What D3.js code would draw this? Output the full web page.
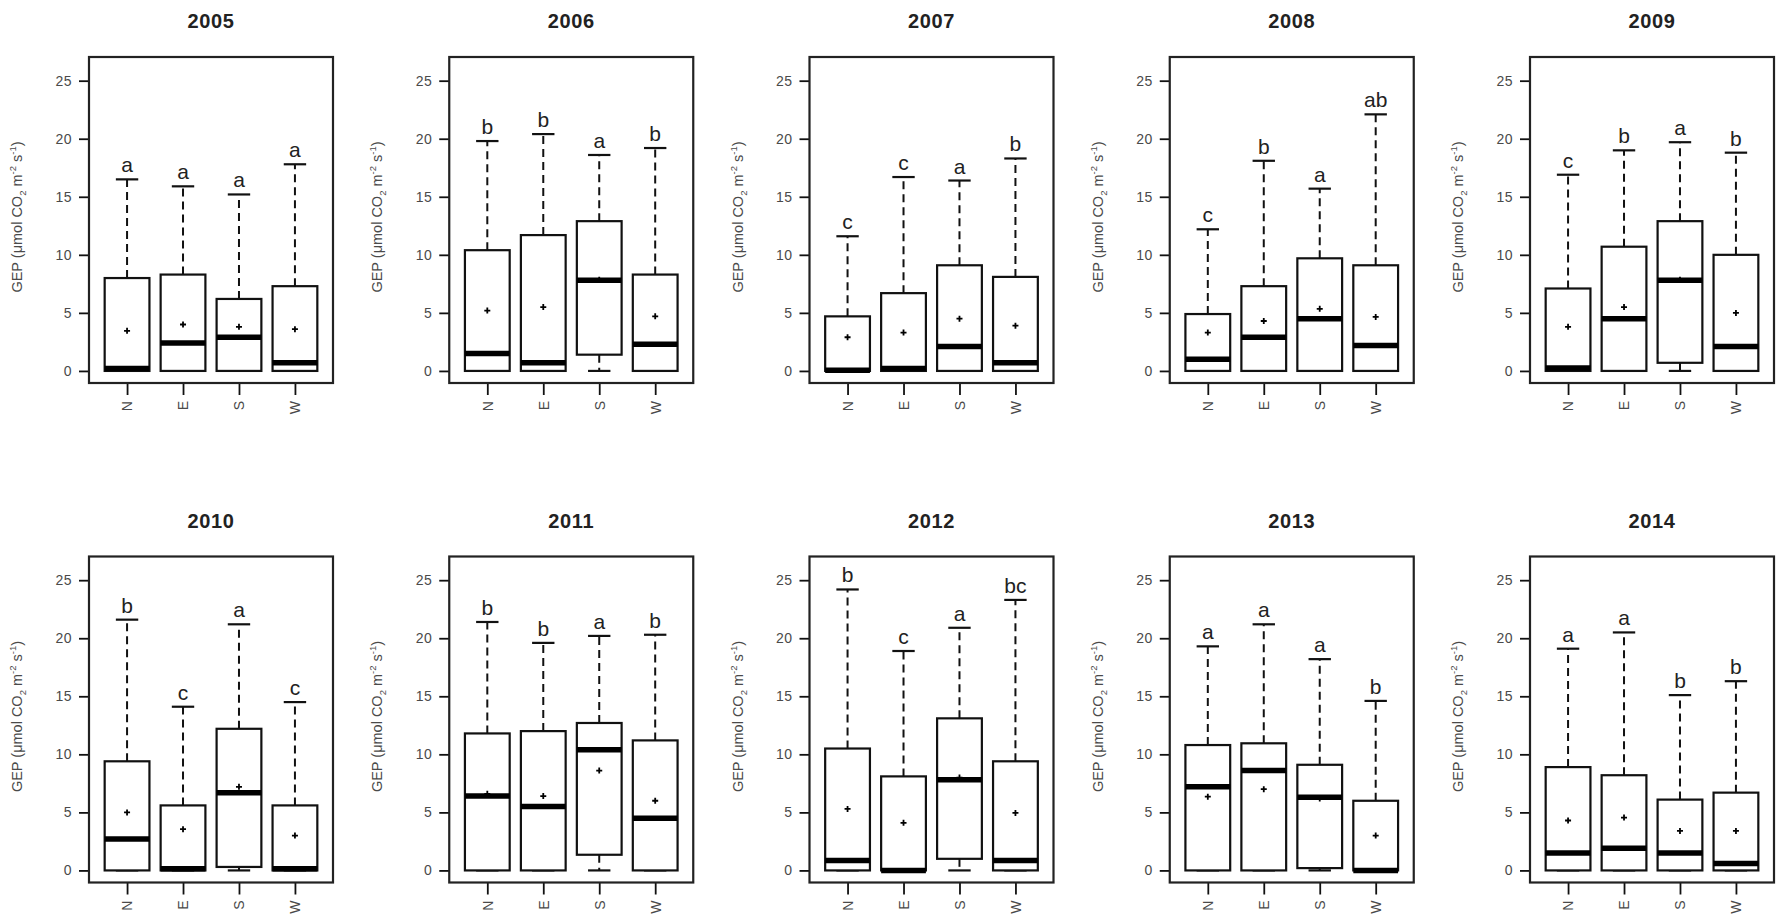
<!DOCTYPE html>
<html>
<head>
<meta charset="utf-8">
<script src="https://cdn.jsdelivr.net/npm/d3@7"></script>
<style>
  body { margin: 0; background: #fff; }
  svg { display: block; font-family: "Liberation Sans", Arial, sans-serif; }
</style>
</head>
<body>
<div id="container"></div>
<script>
// years (one panel each) and the four slope aspects
const years = [2005, 2006, 2007, 2008, 2009, 2010, 2011, 2012, 2013, 2014];
const dirs = ['N', 'E', 'S', 'W'];
const yTicks = [0, 5, 10, 15, 20, 25];

// box statistics per year, in N E S W order
const upper = [
    [16.5, 15.9, 15.2, 17.8],
    [19.8, 20.4, 18.6, 19.2],
    [11.6, 16.7, 16.4, 18.3],
    [12.2, 18.1, 15.7, 22.1],
    [16.9, 19.0, 19.7, 18.8],
    [21.6, 14.1, 21.2, 14.5],
    [21.4, 19.6, 20.2, 20.3],
    [24.2, 18.9, 20.9, 23.3],
    [19.3, 21.2, 18.2, 14.6],
    [19.1, 20.5, 15.1, 16.3]
];
const q3 = [
    [8.0, 8.3, 6.2, 7.3],
    [10.4, 11.7, 12.9, 8.3],
    [4.7, 6.7, 9.1, 8.1],
    [4.9, 7.3, 9.7, 9.1],
    [7.1, 10.7, 12.9, 10.0],
    [9.4, 5.6, 12.2, 5.6],
    [11.8, 12.0, 12.7, 11.2],
    [10.5, 8.1, 13.1, 9.4],
    [10.8, 10.95, 9.1, 6.0],
    [8.9, 8.2, 6.1, 6.7]
];
const median = [
    [0.2, 2.4, 2.9, 0.7],
    [1.5, 0.7, 7.8, 2.3],
    [0.05, 0.2, 2.1, 0.7],
    [1.0, 2.9, 4.5, 2.2],
    [0.25, 4.5, 7.8, 2.1],
    [2.7, 0.15, 6.7, 0.15],
    [6.4, 5.5, 10.4, 4.5],
    [0.85, 0.0, 7.8, 0.85],
    [7.2, 8.6, 6.3, 0.0],
    [1.5, 1.9, 1.5, 0.6]
];
const q1 = [
    [0, 0, 0, 0],
    [0, 0, 1.4, 0],
    [0, 0, 0, 0],
    [0, 0, 0, 0],
    [0, 0, 0.7, 0],
    [0, 0, 0.3, 0],
    [0, 0, 1.35, 0],
    [0, 0, 1.0, 0],
    [0, 0, 0.2, 0],
    [0, 0, 0, 0]
];
const lower = [
    [0, 0, 0, 0],
    [0, 0, 0, 0],
    [0, 0, 0, 0],
    [0, 0, 0, 0],
    [0, 0, 0, 0],
    [0, 0, 0, 0],
    [0, 0, 0, 0],
    [0, 0, 0, 0],
    [0, 0, 0, 0],
    [0, 0, 0, 0]
];
const means = [
    [3.45, 4.0, 3.8, 3.6],
    [5.2, 5.5, 7.85, 4.7],
    [2.9, 3.3, 4.5, 3.9],
    [3.3, 4.3, 5.35, 4.65],
    [3.8, 5.5, 7.85, 5.0],
    [5.0, 3.55, 7.2, 3.0],
    [6.6, 6.4, 8.6, 6.0],
    [5.3, 4.1, 8.0, 4.95],
    [6.35, 7.0, 6.2, 3.0],
    [4.3, 4.55, 3.4, 3.4]
];
const letters = [
    ['a', 'a', 'a', 'a'],
    ['b', 'b', 'a', 'b'],
    ['c', 'c', 'a', 'b'],
    ['c', 'b', 'a', 'ab'],
    ['c', 'b', 'a', 'b'],
    ['b', 'c', 'a', 'c'],
    ['b', 'b', 'a', 'b'],
    ['b', 'c', 'a', 'bc'],
    ['a', 'a', 'a', 'b'],
    ['a', 'a', 'b', 'b']
];

// layout
const w = 1776;
const h = 921;
const panelW = 244;
const panelH = 326;
const left0 = 89;
const top0 = 57;
const colStep = 360.25;
const rowStep = 499.5;
const ink = '#111';
const grey = '#4a4a4a';

const svg = d3.select('#container')
    .append('svg')
    .attr('width', w)
    .attr('height', h);

svg.append('rect').attr('width', w).attr('height', h).attr('fill', '#fff');

years.forEach((year, i) => {
    const col = i % 5;
    const row = Math.floor(i / 5);
    const x0 = left0 + col * colStep;
    const y0 = top0 + row * rowStep;

    const g = svg.append('g').attr('transform', `translate(${x0}, ${y0})`);

    const x = d3.scalePoint().domain(dirs).range([0, panelW]).padding(0.68);
    const y = d3.scaleLinear().domain([-1.04, 27.04]).range([panelH, 0]);
    const bw = x.step() * 0.8;
    const cap = bw / 2;

    // title
    g.append('text')
        .attr('x', panelW / 2)
        .attr('y', -29)
        .attr('text-anchor', 'middle')
        .attr('font-size', 20)
        .attr('font-weight', 'bold')
        .attr('letter-spacing', 0.6)
        .attr('fill', '#222')
        .text(year);

    // y axis
    const yAxis = d3.axisLeft(y).tickValues(yTicks).tickSize(10).tickPadding(7);
    const ya = g.append('g').call(yAxis);
    ya.select('.domain').remove();
    ya.selectAll('line').attr('stroke', ink).attr('stroke-width', 1.8);
    ya.selectAll('text').attr('font-size', 14).attr('fill', grey)
        .attr('letter-spacing', 0.5)
        .attr('font-family', '"Liberation Sans", Arial, sans-serif');

    // x axis with vertical labels
    const xAxis = d3.axisBottom(x).tickSize(12).tickPadding(0);
    const xa = g.append('g').attr('transform', `translate(0, ${panelH})`).call(xAxis);
    xa.select('.domain').remove();
    xa.selectAll('line').attr('stroke', ink).attr('stroke-width', 1.8);
    xa.selectAll('text')
        .attr('font-size', 14).attr('fill', grey)
        .attr('font-family', '"Liberation Sans", Arial, sans-serif')
        .attr('transform', 'rotate(-90)')
        .attr('x', -18).attr('y', 0).attr('dy', '0.35em')
        .attr('text-anchor', 'end');

    // y label
    const lab = g.append('text')
        .attr('transform', `translate(-67, ${panelH / 2 - 3}) rotate(-90)`)
        .attr('text-anchor', 'middle')
        .attr('font-size', 14.5)
        .attr('fill', grey);
    lab.append('tspan').text('GEP (\u03bcmol CO');
    lab.append('tspan').attr('font-size', 9.5).attr('dy', 4).text('2');
    lab.append('tspan').attr('dy', -4).text(' m');
    lab.append('tspan').attr('font-size', 9.5).attr('dy', -6).text('-2');
    lab.append('tspan').attr('dy', 6).text(' s');
    lab.append('tspan').attr('font-size', 9.5).attr('dy', -6).text('-1');
    lab.append('tspan').attr('dy', 6).text(')');

    const d = dirs.map((dir, j) => ({
        dir,
        hi: upper[i][j],
        q3: q3[i][j],
        med: median[i][j],
        q1: q1[i][j],
        lo: lower[i][j],
        mean: means[i][j],
        letter: letters[i][j]
    }));

    const boxes = g.selectAll('.bx').data(d).enter().append('g').attr('class', 'bx');

    // whiskers
    boxes.append('line')
        .attr('x1', (e) => x(e.dir)).attr('x2', (e) => x(e.dir))
        .attr('y1', (e) => y(e.q3)).attr('y2', (e) => y(e.hi))
        .attr('stroke', ink).attr('stroke-width', 2).attr('stroke-dasharray', '8,5');
    boxes.filter((e) => e.q1 > e.lo).append('line')
        .attr('x1', (e) => x(e.dir)).attr('x2', (e) => x(e.dir))
        .attr('y1', (e) => y(e.q1)).attr('y2', (e) => y(e.lo))
        .attr('stroke', ink).attr('stroke-width', 2).attr('stroke-dasharray', '8,5');
    boxes.append('line')
        .attr('x1', (e) => x(e.dir) - cap / 2).attr('x2', (e) => x(e.dir) + cap / 2)
        .attr('y1', (e) => y(e.hi)).attr('y2', (e) => y(e.hi))
        .attr('stroke', ink).attr('stroke-width', 2.2);
    boxes.append('line')
        .attr('x1', (e) => x(e.dir) - cap / 2).attr('x2', (e) => x(e.dir) + cap / 2)
        .attr('y1', (e) => y(e.lo)).attr('y2', (e) => y(e.lo))
        .attr('stroke', ink).attr('stroke-width', 2.2);

    // box
    boxes.append('rect')
        .attr('x', (e) => x(e.dir) - bw / 2)
        .attr('y', (e) => y(e.q3))
        .attr('width', bw)
        .attr('height', (e) => y(e.q1) - y(e.q3))
        .attr('fill', '#fff')
        .attr('stroke', ink).attr('stroke-width', 2.2);

    // median
    boxes.append('line')
        .attr('x1', (e) => x(e.dir) - bw / 2).attr('x2', (e) => x(e.dir) + bw / 2)
        .attr('y1', (e) => y(e.med)).attr('y2', (e) => y(e.med))
        .attr('stroke', '#000').attr('stroke-width', 5.5);

    // mean marker
    boxes.append('path')
        .attr('d', (e) => {
            const cx = x(e.dir), cy = y(e.mean);
            return `M${cx - 3},${cy}H${cx + 3}M${cx},${cy - 3}V${cy + 3}`;
        })
        .attr('stroke', '#000').attr('stroke-width', 1.8);

    // significance letters
    boxes.append('text')
        .attr('x', (e) => x(e.dir))
        .attr('y', (e) => y(e.hi) - 7)
        .attr('text-anchor', 'middle')
        .attr('font-size', 21)
        .attr('fill', '#222')
        .text((e) => e.letter);

    // frame
    g.append('rect')
        .attr('width', panelW).attr('height', panelH)
        .attr('fill', 'none')
        .attr('stroke', '#222').attr('stroke-width', 2.2);
});
</script>
</body>
</html>
